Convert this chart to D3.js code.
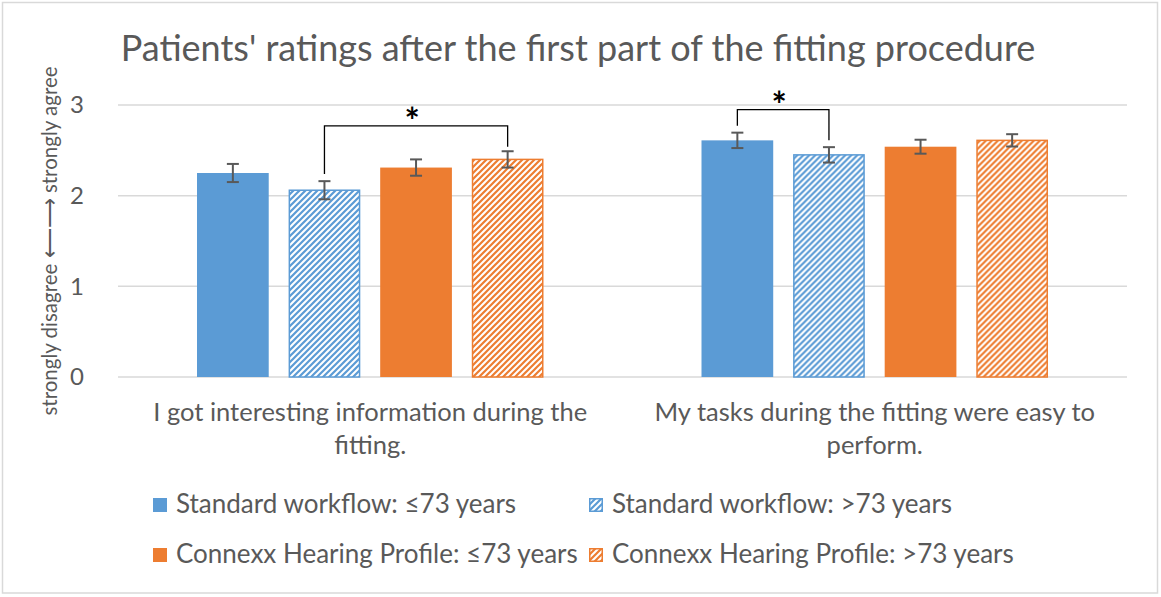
<!DOCTYPE html>
<html>
<head>
<meta charset="utf-8">
<script src="https://cdn.jsdelivr.net/npm/d3@7"></script>
<style>
  html, body { margin: 0; padding: 0; background: #fff; }
  svg { display: block; font-family: Lato, "Open Sans", sans-serif; }
</style>
</head>
<body>
<svg id="chart"></svg>
<script>
// categories, split in the two lines shown under the axis
const categories = [
    ["I got interesting information during the", "fitting."],
    ["My tasks during the fitting were easy to", "perform."]
]
const seriesNames = [
    "Standard workflow: \u226473 years",
    "Standard workflow: >73 years",
    "Connexx Hearing Profile: \u226473 years",
    "Connexx Hearing Profile: >73 years"
]
const seriesColors = ["#5b9bd5", "#5b9bd5", "#ed7d31", "#ed7d31"]
const seriesHatched = [false, true, false, true]

// mean rating per category, one array per series
const standardYoung = [2.25, 2.61]
const standardOld = [2.06, 2.45]
const connexxYoung = [2.31, 2.54]
const connexxOld = [2.40, 2.61]

// error bar half length
const standardYoungErr = [0.10, 0.085]
const standardOldErr = [0.10, 0.085]
const connexxYoungErr = [0.09, 0.077]
const connexxOldErr = [0.09, 0.068]

const yTicks = [0, 1, 2, 3]

// significance brackets: category, series from/to, bracket level, leg ends
const sigCategory = [0, 1]
const sigFrom = [1, 0]
const sigTo = [3, 1]
const sigLevel = [2.77, 2.95]
const sigLegFrom = [2.24, 2.77]
const sigLegTo = [2.54, 2.61]

const values = [standardYoung, standardOld, connexxYoung, connexxOld]
const errors = [standardYoungErr, standardOldErr, connexxYoungErr, connexxOldErr]

const width = 1161
const height = 597
const margin = { top: 105, right: 34, bottom: 220, left: 118 }
const textColor = "#595959"

const svg = d3.select("#chart")
    .attr("width", width)
    .attr("height", height)

// outer border of the chart area
svg.append("rect")
    .attr("x", 2.5).attr("y", 2.5)
    .attr("width", 1155).attr("height", 590.5)
    .attr("fill", "#fff")
    .attr("stroke", "#d9d9d9")
    .attr("stroke-width", 1.5)

// hatch patterns
const defs = svg.append("defs")
seriesColors.forEach((c, i) => {
    if (!seriesHatched[i]) return
    const p = defs.append("pattern")
        .attr("id", "hatch" + i)
        .attr("patternUnits", "userSpaceOnUse")
        .attr("width", 6).attr("height", 6)
    p.append("rect").attr("width", 6).attr("height", 6).attr("fill", "#fff")
    p.append("path")
        .attr("d", "M-1,1 l2,-2 M0,6 l6,-6 M5,7 l2,-2")
        .attr("stroke", c)
        .attr("stroke-width", 2.2)
})

const x0 = d3.scaleBand()
    .domain(d3.range(categories.length))
    .range([margin.left, width - margin.right])

const x1 = d3.scaleBand()
    .domain(d3.range(seriesNames.length))
    .range([79, x0.bandwidth() - 79])
    .paddingInner(0.217)

const y = d3.scaleLinear()
    .domain([0, 3])
    .range([height - margin.bottom, margin.top])

// gridlines
svg.append("g")
    .selectAll("line")
    .data(yTicks)
    .join("line")
    .attr("x1", margin.left)
    .attr("x2", width - margin.right)
    .attr("y1", d => y(d))
    .attr("y2", d => y(d))
    .attr("stroke", "#d9d9d9")
    .attr("stroke-width", 1.5)

// y axis labels
const yAxis = svg.append("g")
    .attr("transform", `translate(${margin.left - 34},0)`)
    .call(d3.axisLeft(y).tickValues(yTicks).tickFormat(d3.format("d")).tickSize(0).tickPadding(0))
yAxis.select(".domain").remove()
yAxis.selectAll("text")
    .attr("fill", textColor)
    .attr("font-size", 24)
    .attr("font-family", "Lato, sans-serif")

svg.append("text")
    .attr("transform", `translate(57,${(y(0) + y(3)) / 2}) rotate(-90)`)
    .attr("text-anchor", "middle")
    .attr("fill", textColor)
    .attr("font-size", 20.5)
    .text("strongly disagree \u27F5\u27F6 strongly agree")

// bars
const groups = svg.append("g")
    .selectAll("g")
    .data(categories)
    .join("g")
    .attr("transform", (d, i) => `translate(${x0(i)},0)`)

groups.each(function (cat, ci) {
    const g = d3.select(this)
    const rows = values.map((v, si) => ({ si, value: v[ci], err: errors[si][ci] }))

    g.selectAll("rect")
        .data(rows)
        .join("rect")
        .attr("x", d => x1(d.si) + (seriesHatched[d.si] ? 0.75 : 0))
        .attr("y", d => y(d.value))
        .attr("width", d => x1.bandwidth() - (seriesHatched[d.si] ? 1.5 : 0))
        .attr("height", d => y(0) - y(d.value))
        .attr("fill", d => seriesHatched[d.si] ? `url(#hatch${d.si})` : seriesColors[d.si])
        .attr("stroke", d => seriesHatched[d.si] ? seriesColors[d.si] : "none")
        .attr("stroke-width", 1.5)

    const eb = g.selectAll("g.err")
        .data(rows)
        .join("g")
        .attr("class", "err")
        .attr("stroke", "#595959")
        .attr("stroke-width", 2)
    eb.append("line")
        .attr("x1", d => x1(d.si) + x1.bandwidth() / 2)
        .attr("x2", d => x1(d.si) + x1.bandwidth() / 2)
        .attr("y1", d => y(d.value - d.err))
        .attr("y2", d => y(d.value + d.err))
    eb.append("line")
        .attr("x1", d => x1(d.si) + x1.bandwidth() / 2 - 6)
        .attr("x2", d => x1(d.si) + x1.bandwidth() / 2 + 6)
        .attr("y1", d => y(d.value + d.err))
        .attr("y2", d => y(d.value + d.err))
    eb.append("line")
        .attr("x1", d => x1(d.si) + x1.bandwidth() / 2 - 6)
        .attr("x2", d => x1(d.si) + x1.bandwidth() / 2 + 6)
        .attr("y1", d => y(d.value - d.err))
        .attr("y2", d => y(d.value - d.err))

    // category label
    g.append("text")
        .attr("text-anchor", "middle")
        .attr("fill", textColor)
        .attr("font-size", 25.5)
        .selectAll("tspan")
        .data(cat)
        .join("tspan")
        .attr("x", x0.bandwidth() / 2)
        .attr("y", (d, i) => 421 + i * 33)
        .text(d => d)
})

// significance brackets
sigCategory.forEach((ci, k) => {
    const xa = x0(ci) + x1(sigFrom[k]) + x1.bandwidth() / 2
    const xb = x0(ci) + x1(sigTo[k]) + x1.bandwidth() / 2
    const top = y(sigLevel[k])
    svg.append("path")
        .attr("d", `M${xa},${y(sigLegFrom[k])} V${top} H${xb} V${y(sigLegTo[k])}`)
        .attr("fill", "none")
        .attr("stroke", "#000")
        .attr("stroke-width", 1.3)
    svg.append("text")
        .attr("x", (xa + xb) / 2 - 4)
        .attr("y", top + 8)
        .attr("text-anchor", "middle")
        .attr("font-size", 36)
        .attr("font-weight", "bold")
        .attr("fill", "#000")
        .text("*")
})

// title
svg.append("text")
    .attr("x", 578)
    .attr("y", 61)
    .attr("text-anchor", "middle")
    .attr("fill", textColor)
    .attr("font-size", 36)
    .text("Patients' ratings after the first part of the fitting procedure")

// legend
const legendX = [153, 589]
const legendY = [505, 555]
const legend = svg.append("g")
    .selectAll("g")
    .data(seriesNames)
    .join("g")
    .attr("transform", (d, i) => `translate(${legendX[i % 2]},${legendY[Math.floor(i / 2)]})`)
legend.append("rect")
    .attr("x", (d, i) => seriesHatched[i] ? 0.75 : 0)
    .attr("y", (d, i) => -7 + (seriesHatched[i] ? 0.75 : 0))
    .attr("width", (d, i) => seriesHatched[i] ? 12.5 : 14)
    .attr("height", (d, i) => seriesHatched[i] ? 12.5 : 14)
    .attr("fill", (d, i) => seriesHatched[i] ? `url(#hatch${i})` : seriesColors[i])
    .attr("stroke", (d, i) => seriesHatched[i] ? seriesColors[i] : "none")
    .attr("stroke-width", 1.5)
legend.append("text")
    .attr("x", 23)
    .attr("y", 8)
    .attr("fill", textColor)
    .attr("font-size", 26)
    .text(d => d)
</script>
</body>
</html>
